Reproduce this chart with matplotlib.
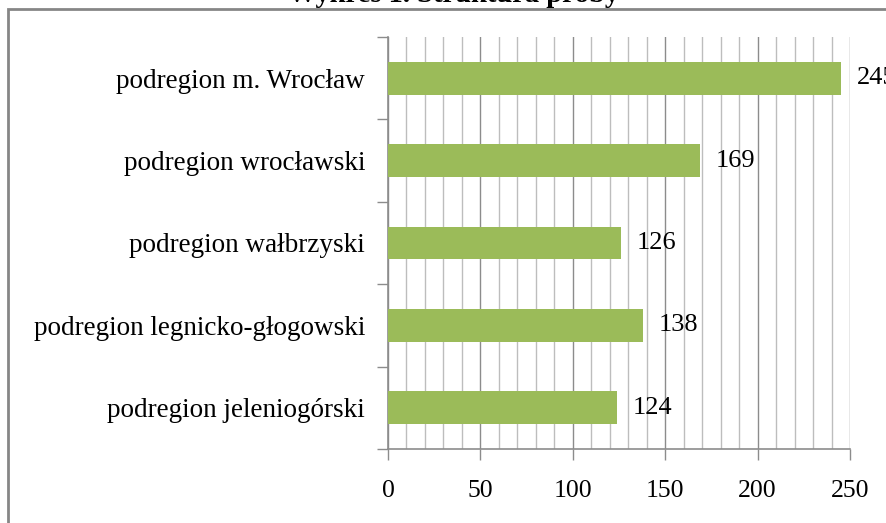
import matplotlib.pyplot as plt
from matplotlib.patches import Rectangle
from matplotlib.ticker import MultipleLocator

# Wykres 1. Struktura próby - liczebności w podregionach
categories = [
    "podregion m. Wrocław",
    "podregion wrocławski",
    "podregion wałbrzyski",
    "podregion legnicko-głogowski",
    "podregion jeleniogórski",
]
counts = [245, 169, 126, 138, 124]
x_ticks = [0, 50, 100, 150, 200, 250]

bar_color = "#9bbb59"
serif = "Liberation Serif"

fig = plt.figure(figsize=(8.86, 5.23), dpi=100)
W, H = 886, 523

# axes placed in pixel terms (left, bottom, width, height)
ax = fig.add_axes([388 / W, 1 - 449 / H, (850 - 388) / W, (449 - 37) / H])

# categories go top -> bottom
ypos = list(range(len(categories)))[::-1]
ax.barh(ypos, counts, height=0.4, color=bar_color, zorder=3)

for y, v in zip(ypos, counts):
    ax.text(v + 8.5, y, str(v), va="center", ha="left", fontsize=19,
            family=serif, clip_on=False)

ax.set_xlim(0, 250)
ax.set_ylim(-0.5, len(categories) - 0.5)

# x axis
ax.set_xticks(x_ticks)
ax.set_xticklabels([str(t) for t in x_ticks], fontsize=18.5, family=serif)
ax.xaxis.set_minor_locator(MultipleLocator(10))
ax.grid(axis="x", which="minor", color="#bdbdbd", linewidth=1, zorder=0)
ax.grid(axis="x", which="major", color="#8c8c8c", linewidth=1, zorder=0)
ax.tick_params(axis="x", which="major", direction="out", length=8,
               width=1, color="#8c8c8c", pad=14)
ax.tick_params(axis="x", which="minor", length=0)

# y axis: labels at bar centres, tick marks on category boundaries
ax.set_yticks(ypos)
ax.set_yticklabels(categories, fontsize=19.5, family=serif)
ax.tick_params(axis="y", which="major", length=0, pad=16.5)
ax.set_yticks([i - 0.5 for i in range(len(categories) + 1)], minor=True)
ax.tick_params(axis="y", which="minor", direction="out", length=8,
               width=1, color="#8c8c8c")

for side in ["top", "right"]:
    ax.spines[side].set_visible(False)
for side in ["left", "bottom"]:
    ax.spines[side].set_color("#8c8c8c")
    ax.spines[side].set_linewidth(1.2)

# outer chart frame (partly cut off on the right/bottom)
frame = Rectangle((8 / W, -0.1), 1.2, 1 - 9 / H + 0.1,
                  transform=fig.transFigure, fill=False,
                  edgecolor="#868686", linewidth=2)
fig.patches.append(frame)

# title, mostly cut off at the top edge
fig.text(453 / W, 1 - 2.5 / H, "Wykres 1. Struktura próby", ha="center",
         va="baseline", fontsize=20.5, fontweight="bold", family=serif)

fig.savefig("out.png", dpi=100)
